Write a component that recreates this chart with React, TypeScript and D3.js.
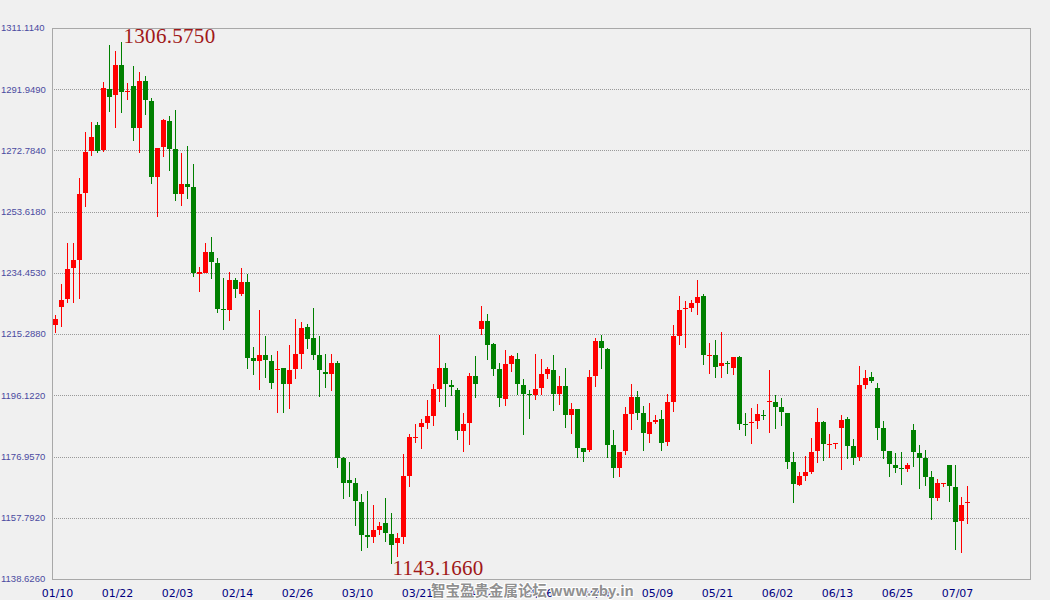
import React from "react";
import * as d3 from "d3";

const opens = [1218.2,1223.9,1226.4,1236.1,1238.6,1259.6,1272.7,1280.7,1272.9,1292.0,1290.2,1299.5,1291.3,1292.9,1279.9,1294.5,1288.3,1264.6,1273.8,1282.0,1273.3,1259.2,1262.3,1261.4,1234.2,1234.5,1241.0,1237.7,1223.2,1222.8,1232.2,1227.9,1231.6,1207.8,1207.0,1208.7,1206.9,1204.3,1204.7,1199.8,1204.5,1209.2,1217.5,1214.1,1208.7,1203.4,1202.9,1206.2,1176.6,1169.6,1168.6,1162.7,1152.4,1151.9,1154.1,1156.1,1152.7,1150.0,1151.9,1171.0,1182.9,1186.3,1187.5,1189.7,1198.1,1204.7,1199.5,1197.8,1185.1,1187.6,1202.2,1217.0,1219.4,1212.3,1204.4,1195.1,1206.0,1207.5,1199.4,1196.5,1196.3,1198.5,1202.8,1204.0,1196.6,1199.0,1190.1,1191.8,1179.6,1179.0,1202.3,1213.1,1210.6,1180.6,1173.5,1178.7,1190.3,1195.6,1190.6,1184.0,1187.8,1188.7,1181.5,1194.0,1214.7,1223.2,1223.4,1225.0,1227.2,1208.5,1208.7,1205.4,1206.2,1204.7,1208.1,1187.1,1187.6,1188.1,1190.0,1193.9,1194.0,1192.5,1190.6,1175.2,1168.0,1170.9,1172.1,1178.7,1187.8,1180.6,1180.9,1185.9,1188.7,1180.2,1176.9,1199.3,1201.9,1198.4,1185.8,1178.7,1174.3,1173.5,1173.1,1185.3,1178.1,1176.5,1170.5,1164.1,1168.4,1174.3,1167.4,1156.8,1162.3];
const highs = [1221.3,1231.0,1243.9,1243.9,1264.1,1278.7,1281.8,1281.7,1294.2,1305.9,1303.9,1306.575,1294.0,1299.3,1297.3,1296.1,1289.2,1273.6,1282.7,1283.6,1285.4,1271.9,1274.1,1268.5,1236.3,1243.7,1245.8,1239.1,1232.9,1234.7,1232.9,1236.0,1234.1,1211.2,1222.8,1214.7,1208.7,1210.1,1204.8,1211.9,1220.0,1219.1,1218.4,1223.4,1214.7,1209.1,1209.1,1207.0,1176.7,1175.2,1170.2,1165.2,1166.2,1161.9,1156.5,1164.1,1159.3,1153.1,1177.7,1184.0,1187.1,1188.7,1194.8,1199.6,1215.0,1206.2,1201.0,1198.5,1190.6,1203.1,1208.4,1224.1,1221.6,1212.4,1206.2,1210.3,1208.7,1209.4,1201.2,1197.8,1209.1,1207.5,1205.0,1208.7,1202.2,1204.7,1193.7,1191.9,1179.7,1204.0,1214.2,1215.0,1211.0,1185.3,1178.5,1192.5,1199.6,1197.5,1192.8,1193.7,1190.0,1191.5,1196.5,1218.1,1227.2,1225.6,1226.0,1232.2,1227.8,1212.5,1213.4,1216.0,1206.8,1208.2,1208.5,1190.6,1192.1,1193.4,1191.5,1204.0,1196.2,1195.3,1190.7,1178.4,1172.1,1177.1,1182.8,1192.1,1188.1,1184.0,1181.3,1190.0,1189.3,1182.4,1205.3,1204.0,1203.4,1200.0,1188.1,1178.8,1178.1,1178.4,1174.9,1187.1,1180.5,1179.0,1172.4,1169.9,1168.8,1174.4,1174.3,1164.3,1167.7];
const lows = [1215.5,1217.6,1225.1,1225.1,1226.2,1255.0,1271.0,1272.1,1272.3,1284.8,1279.9,1284.6,1288.6,1275.8,1272.1,1283.9,1262.3,1252.0,1270.8,1266.4,1257.0,1255.5,1257.6,1233.3,1228.6,1234.3,1232.4,1221.8,1216.6,1219.5,1226.7,1227.3,1204.5,1202.5,1197.9,1201.6,1198.2,1190.7,1190.7,1191.9,1201.3,1204.5,1210.7,1207.2,1195.7,1198.5,1197.6,1173.5,1163.8,1164.4,1155.3,1147.5,1148.4,1150.0,1152.4,1150.3,1143.166,1145.6,1149.6,1167.5,1181.3,1179.4,1185.5,1186.6,1194.1,1192.6,1196.0,1182.2,1178.5,1180.7,1195.4,1215.1,1207.3,1202.3,1192.6,1192.9,1203.5,1196.3,1183.8,1188.8,1194.8,1196.3,1201.3,1191.3,1193.2,1186.0,1184.1,1176.6,1175.3,1178.5,1198.7,1204.4,1176.6,1170.3,1170.6,1177.4,1185.3,1188.4,1178.7,1181.2,1187.1,1178.7,1180.2,1190.9,1211.9,1210.9,1222.2,1221.3,1205.6,1202.8,1201.5,1201.6,1202.9,1202.6,1185.3,1183.4,1181.0,1185.6,1188.4,1184.3,1185.6,1186.5,1173.0,1162.4,1167.7,1169.3,1171.5,1174.9,1175.5,1176.6,1179.4,1172.7,1176.3,1174.4,1175.7,1198.1,1200.0,1182.1,1176.2,1170.5,1171.8,1168.0,1172.1,1173.7,1166.8,1167.7,1157.1,1163.1,1167.4,1162.7,1147.7,1146.8,1155.8];
const closes = [1220.0,1226.0,1235.7,1238.5,1259.1,1272.3,1277.1,1272.7,1292.3,1289.6,1299.5,1291.2,1291.5,1279.9,1294.5,1288.6,1264.6,1273.5,1282.4,1273.3,1259.2,1262.3,1261.4,1234.5,1234.6,1241.0,1238.0,1223.2,1222.9,1232.2,1229.3,1231.6,1207.9,1207.0,1208.7,1207.3,1200.1,1204.5,1199.8,1204.0,1209.1,1217.2,1213.9,1208.8,1203.9,1202.9,1206.2,1176.6,1168.8,1168.8,1163.1,1152.5,1151.9,1153.9,1155.2,1153.1,1149.4,1151.4,1170.9,1183.1,1183.2,1187.4,1189.6,1198.1,1204.7,1199.8,1198.8,1185.0,1187.1,1202.2,1199.8,1219.4,1212.0,1204.5,1195.4,1205.9,1208.4,1199.8,1196.6,1196.3,1198.1,1202.8,1204.4,1196.6,1199.0,1190.1,1191.8,1179.7,1178.5,1201.9,1213.1,1211.0,1180.6,1173.5,1178.4,1190.3,1195.6,1190.7,1184.3,1187.8,1188.4,1181.2,1194.0,1214.7,1222.8,1223.5,1225.0,1226.9,1208.7,1208.8,1205.0,1206.2,1205.9,1208.1,1187.2,1186.8,1187.9,1190.3,1189.7,1194.2,1192.5,1190.9,1175.2,1168.4,1170.9,1172.1,1178.4,1187.8,1180.9,1180.9,1181.2,1188.4,1180.2,1176.6,1199.3,1201.5,1200.6,1185.9,1178.8,1174.7,1173.5,1173.2,1174.3,1178.4,1176.5,1170.5,1164.1,1168.7,1168.7,1167.7,1156.5,1161.8,1162.6];

const dateLabels = ["01/10","01/22","02/03","02/14","02/26","03/10","03/21","04/02","04/16","04/28","05/09","05/21","06/02","06/13","06/25","07/07"];
const yTicks = [1311.114,1291.949,1272.784,1253.618,1234.453,1215.288,1196.122,1176.957,1157.792,1138.626];
const watermark = "智宝盈贵金属论坛 www.zby.in";

const W = 1050, H = 600;
const L = 52, R = 1030, T = 28, B = 579;

export default function App() {
  const n = opens.length;
  const x = d3.scaleLinear().domain([0, n - 1]).range([55.5, 55.5 + 6 * (n - 1)]);
  const y = d3.scaleLinear().domain([yTicks[yTicks.length - 1], yTicks[0]]).range([B, T]);
  const hiIdx = d3.maxIndex(highs);
  const loIdx = d3.minIndex(lows);
  const candles = d3.range(n).map((i) => {
    const up = closes[i] >= opens[i];
    const top = Math.round(y(Math.max(opens[i], closes[i])));
    const bot = Math.round(y(Math.min(opens[i], closes[i])));
    return { i, up, top, h: Math.max(1, bot - top), hy: Math.round(y(highs[i])), ly: Math.round(y(lows[i])) };
  });
  return (
    <div style={{ position: "fixed", left: 0, top: 0 }}>
      <svg width={W} height={H} style={{ display: "block", background: "#f0f0f0" }}>
        <rect x={0} y={0} width={W} height={H} fill="#f0f0f0" />
        {yTicks.slice(1, -1).map((t) => (
          <line key={t} x1={L} x2={R} y1={Math.round(y(t)) + 0.5} y2={Math.round(y(t)) + 0.5} stroke="#999" strokeDasharray="1,1" />
        ))}
        <rect x={L + 0.5} y={T + 0.5} width={R - L} height={B - T} fill="none" stroke="#a8a8a8" />
        {yTicks.map((t) => (
          <text key={t} x={1} y={y(t)} dy="0.35em" fontFamily="'Liberation Sans', Arial, sans-serif" fontSize={9.5} fill="#4b4ba0">
            {t.toFixed(4)}
          </text>
        ))}
        {dateLabels.map((d, k) => (
          <text key={d} x={x(k * 10) + 2} y={597} textAnchor="middle" fontFamily="'DejaVu Sans', Verdana, sans-serif" fontSize={11} fill="#000080">
            {d}
          </text>
        ))}
        <g shapeRendering="crispEdges">
          {candles.map((c) => (
            <g key={c.i}>
              <line x1={Math.floor(x(c.i)) + 0.5} x2={Math.floor(x(c.i)) + 0.5} y1={c.hy} y2={c.ly} stroke={c.up ? "#ff0000" : "#008000"} />
              <rect x={Math.floor(x(c.i)) - 2} y={c.top} width={5} height={c.h} fill={c.up ? "#ff0000" : "#008000"} />
            </g>
          ))}
        </g>
        <text x={x(hiIdx) + 2} y={y(highs[hiIdx]) + 1} fontFamily="'Liberation Serif', 'Times New Roman', serif" fontSize={21} letterSpacing={0.3} fill="#a01818">
          {highs[hiIdx].toFixed(4)}
        </text>
        <text x={x(loIdx) + 1} y={y(lows[loIdx]) + 11} fontFamily="'Liberation Serif', 'Times New Roman', serif" fontSize={21} letterSpacing={0.3} fill="#a01818">
          {lows[loIdx].toFixed(4)}
        </text>
        <text x={431} y={596} fontFamily="'Noto Sans CJK SC', sans-serif" fontWeight="bold" fontSize={14.5} fill="#909090" stroke="#ffffff" strokeWidth={2} style={{ paintOrder: "stroke" }}>
          {watermark}
        </text>
      </svg>
    </div>
  );
}
